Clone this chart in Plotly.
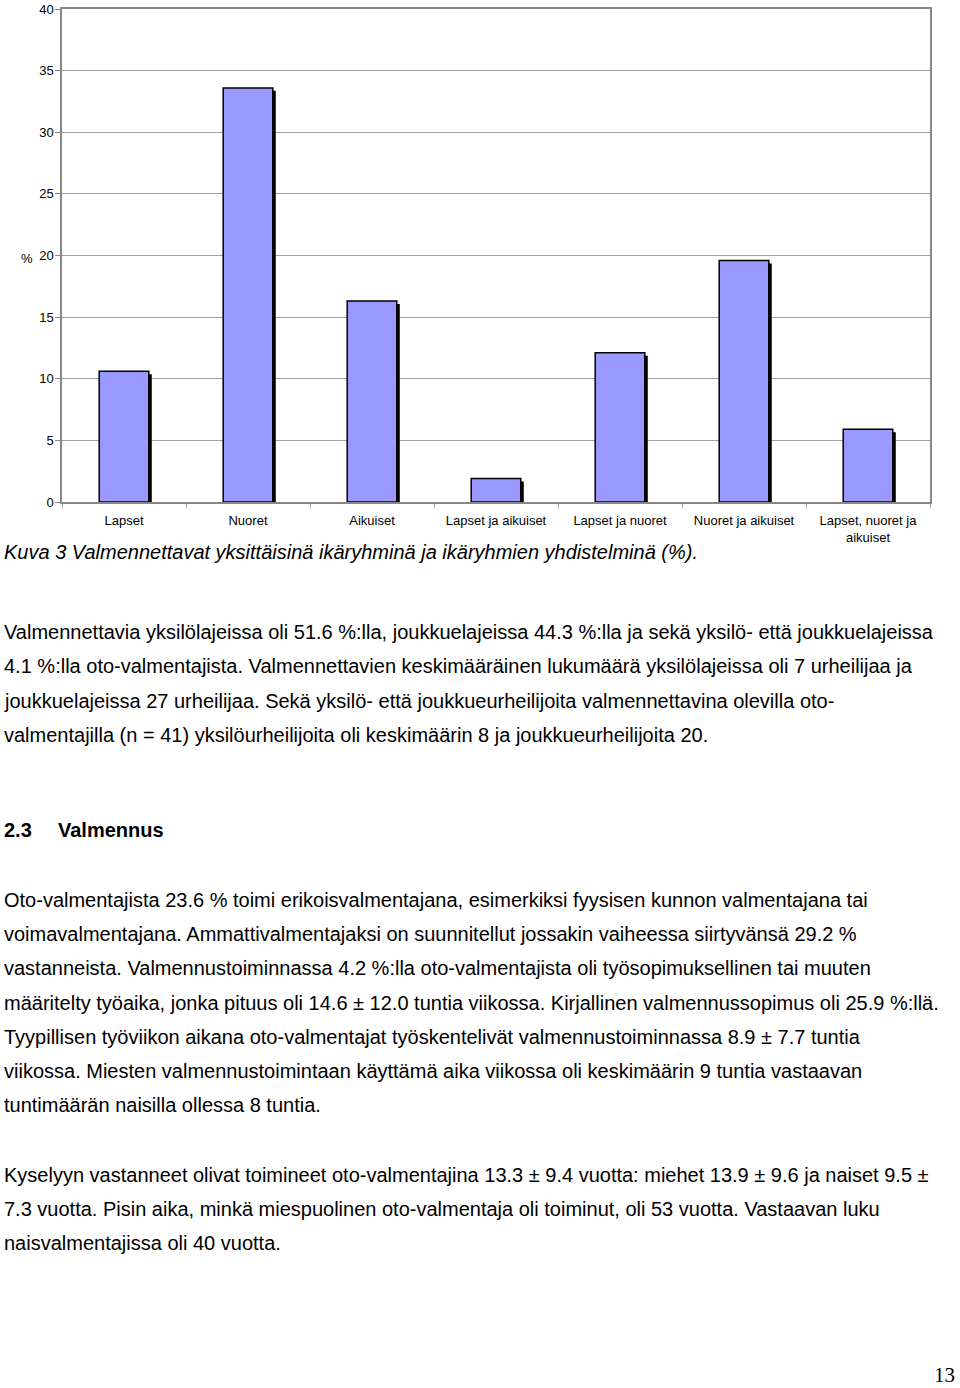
import plotly.graph_objects as go

# ---- data ----
categories = ["Lapset", "Nuoret", "Aikuiset", "Lapset ja aikuiset",
              "Lapset ja nuoret", "Nuoret ja aikuiset", "Lapset, nuoret ja aikuiset"]
tick_labels = ["Lapset", "Nuoret", "Aikuiset", "Lapset ja aikuiset",
               "Lapset ja nuoret", "Nuoret ja aikuiset", "Lapset, nuoret ja<br>aikuiset"]
values = [10.6, 33.6, 16.3, 1.9, 12.1, 19.6, 5.9]
y_ticks = [0, 5, 10, 15, 20, 25, 30, 35, 40]

caption = "Kuva 3 Valmennettavat yksittäisinä ikäryhminä ja ikäryhmien yhdistelminä (%)."
para1 = [
    "Valmennettavia yksilölajeissa oli 51.6 %:lla, joukkuelajeissa 44.3 %:lla ja sekä yksilö- että joukkuelajeissa",
    "4.1 %:lla oto-valmentajista. Valmennettavien keskimääräinen lukumäärä yksilölajeissa oli 7 urheilijaa ja",
    "joukkuelajeissa 27 urheilijaa. Sekä yksilö- että joukkueurheilijoita valmennettavina olevilla oto-",
    "valmentajilla (n = 41) yksilöurheilijoita oli keskimäärin 8 ja joukkueurheilijoita 20.",
]
heading_num = "2.3"
heading_txt = "Valmennus"
para2 = [
    "Oto-valmentajista 23.6 % toimi erikoisvalmentajana, esimerkiksi fyysisen kunnon valmentajana tai",
    "voimavalmentajana. Ammattivalmentajaksi on suunnitellut jossakin vaiheessa siirtyvänsä 29.2 %",
    "vastanneista. Valmennustoiminnassa 4.2 %:lla oto-valmentajista oli työsopimuksellinen tai muuten",
    "määritelty työaika, jonka pituus oli 14.6 ± 12.0 tuntia viikossa. Kirjallinen valmennussopimus oli 25.9 %:llä.",
    "Tyypillisen työviikon aikana oto-valmentajat työskentelivät valmennustoiminnassa 8.9 ± 7.7 tuntia",
    "viikossa. Miesten valmennustoimintaan käyttämä aika viikossa oli keskimäärin 9 tuntia vastaavan",
    "tuntimäärän naisilla ollessa 8 tuntia.",
]
para3 = [
    "Kyselyyn vastanneet olivat toimineet oto-valmentajina 13.3 ± 9.4 vuotta: miehet 13.9 ± 9.6 ja naiset 9.5 ±",
    "7.3 vuotta. Pisin aika, minkä miespuolinen oto-valmentaja oli toiminut, oli 53 vuotta. Vastaavan luku",
    "naisvalmentajissa oli 40 vuotta.",
]
page_number = "13"

# ---- layout geometry (pixels) ----
W, H = 960, 1388
L, R, T, B = 62, 30, 9, 886
PW = W - L - R
PH = H - T - B


def px(x):
    return (x - L) / PW


def py(y):
    return (H - B - y) / PH


FONT = "Liberation Sans, Arial, sans-serif"
BODY = 20

fig = go.Figure()
# shadow
fig.add_trace(go.Bar(
    x=categories, y=[v - 0.24 for v in values], width=0.4, offset=-0.176,
    marker=dict(color="#000000", line=dict(width=0)),
    hoverinfo="skip", showlegend=False,
))
fig.add_trace(go.Bar(
    x=categories, y=values, width=0.4, offset=-0.2,
    marker=dict(color="#9999FF", line=dict(color="#000000", width=1.5)),
    showlegend=False,
))

fig.update_layout(
    width=W, height=H,
    margin=dict(l=L, r=R, t=T, b=B, pad=0, autoexpand=False),
    paper_bgcolor="white", plot_bgcolor="white",
    barmode="overlay",
    font=dict(family=FONT, size=13, color="black"),
    xaxis=dict(
        type="category", tickmode="array", tickvals=categories, ticktext=tick_labels,
        tickson="boundaries", ticks="outside", ticklen=4, tickcolor="#999999",
        showline=True, linecolor="#888888", linewidth=1.5, mirror=True,
        showgrid=False, tickfont=dict(size=13, family=FONT, color="black"),
        range=[-0.5, 6.5], automargin=False, ticklabelstandoff=6,
    ),
    yaxis=dict(
        range=[0, 40], tickvals=y_ticks, ticks="outside", ticklen=5, tickcolor="#888888",
        showline=True, linecolor="#888888", linewidth=1.5, mirror=True,
        showgrid=True, gridcolor="#a0a0a0", gridwidth=1, zeroline=False,
        tickfont=dict(size=13, family=FONT, color="black"), automargin=False,
        ticklabelstandoff=-1,
    ),
)

ann = []
ann.append(dict(text="%", x=px(27), y=py(258), xref="paper", yref="paper",
                showarrow=False, xanchor="center", yanchor="middle",
                font=dict(size=13, family=FONT)))
ann.append(dict(text="<i>" + caption + "</i>", x=px(2), y=py(552), xref="paper", yref="paper",
                showarrow=False, xanchor="left", yanchor="middle",
                font=dict(size=BODY, family=FONT)))
for i, line in enumerate(para1):
    ann.append(dict(text=line, x=px(2), y=py(632 + i * 34.3), xref="paper", yref="paper",
                    showarrow=False, xanchor="left", yanchor="middle",
                    font=dict(size=BODY, family=FONT)))
ann.append(dict(text="<b>" + heading_num + "</b>", x=px(2), y=py(830), xref="paper", yref="paper",
                showarrow=False, xanchor="left", yanchor="middle", font=dict(size=BODY, family=FONT)))
ann.append(dict(text="<b>" + heading_txt + "</b>", x=px(56), y=py(830), xref="paper", yref="paper",
                showarrow=False, xanchor="left", yanchor="middle", font=dict(size=BODY, family=FONT)))
for i, line in enumerate(para2):
    ann.append(dict(text=line, x=px(2), y=py(900 + i * 34.2), xref="paper", yref="paper",
                    showarrow=False, xanchor="left", yanchor="middle",
                    font=dict(size=BODY, family=FONT)))
for i, line in enumerate(para3):
    ann.append(dict(text=line, x=px(2), y=py(1175 + i * 34), xref="paper", yref="paper",
                    showarrow=False, xanchor="left", yanchor="middle",
                    font=dict(size=BODY, family=FONT)))
ann.append(dict(text=page_number, x=px(957), y=py(1375), xref="paper", yref="paper",
                showarrow=False, xanchor="right", yanchor="middle",
                font=dict(size=21, family="Liberation Serif, Times New Roman, serif")))
fig.update_layout(annotations=ann)

fig.write_html("out.html", config={"displayModeBar": False},
               post_script="document.body.style.margin='0px';")
